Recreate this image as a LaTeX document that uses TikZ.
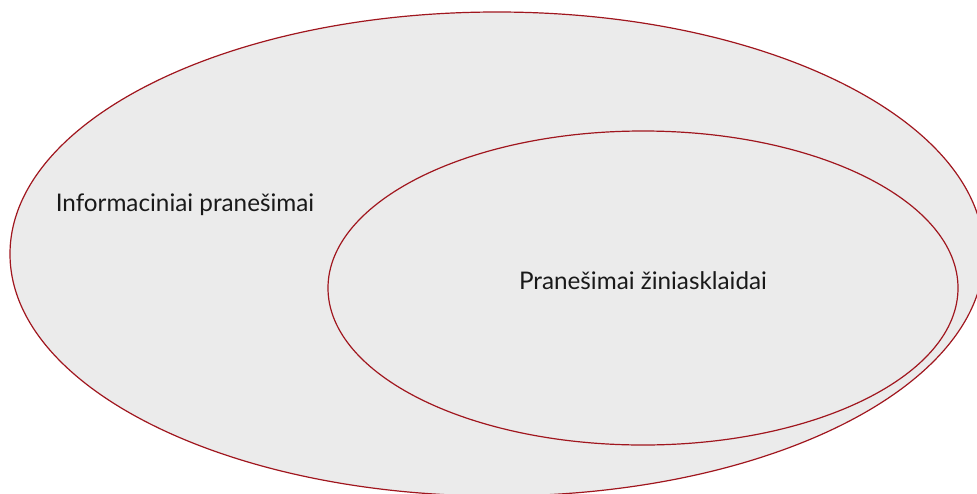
\documentclass[tikz,border=0pt]{standalone}
\usepackage{fontspec}
\setmainfont{Lato}
\usepackage{tikz}
\definecolor{rim}{HTML}{A0161E}
\definecolor{pale}{HTML}{EBEBEB}
\tikzset{>=latex}
\tikzset{set/.style={fill=pale, draw=rim, line width=0.9pt},
         lbl/.style={font=\fontsize{18.2}{21}\selectfont, text=black!90}}

\begin{document}
\begin{tikzpicture}[x=0.75pt, y=-0.75pt]
      \useasboundingbox (0,0) rectangle (977,493);
      \clip (0,0) rectangle (977,493);
      \filldraw[set] (497,254) ellipse (487 and 242);
      \filldraw[set] (643,288) ellipse (315 and 157);
      \node (info) at (185,205) [lbl] {Informaciniai pranešimai};
      \node (media) at (643,281) [lbl] {Pranešimai žiniasklaidai};
\end{tikzpicture}
\end{document}
